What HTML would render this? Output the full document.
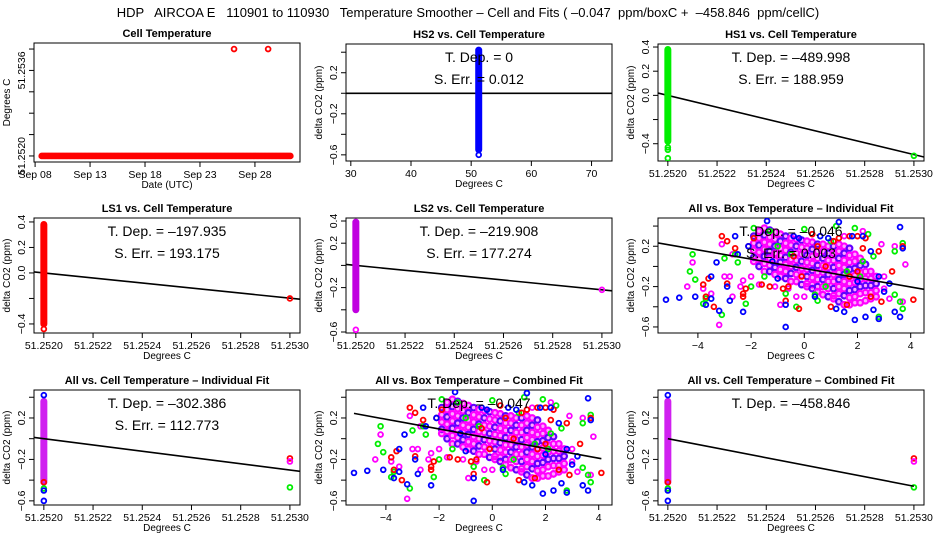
<!DOCTYPE html>
<html><head><meta charset="utf-8">
<style>
html,body{margin:0;padding:0;background:#fff;}
svg{display:block;font-family:"Liberation Sans",sans-serif;}
</style></head>
<body>
<svg id="chart" width="936" height="540" viewBox="0 0 936 540">
<text x="468" y="17" font-size="13" text-anchor="middle" xml:space="preserve">HDP   AIRCOA E   110901 to 110930   Temperature Smoother – Cell and Fits ( –0.047  ppm/boxC +  –458.846  ppm/cellC)</text>
</svg>
<script>
// ---------- data ----------
const cellDays = [];
for (let d = 8.6; d <= 31.31; d += 0.125) cellDays.push(d);
const cellBase = 51.2520;
const cellOutDays = [26.1, 29.2];
const cellOutVals = [51.2540, 51.2540];

const tDepLabels = ["0", "–489.998", "–197.935", "–219.908", "–0.046", "–302.386", "–0.047", "–458.846"];
const sErrLabels = ["0.012", "188.959", "193.175", "177.274", "0.003", "112.773"];
const slopes = [0, -489.998, -197.935, -219.908, -0.046, -302.386, -0.047, -458.846];
const intercepts = [0, 0, 0, 0, -0.02, 0, 0.0, 0];

const hs2Strip = [-0.55, 0.42];
const hs1Strip = [-0.38, 0.38];
const ls1Strip = [-0.40, 0.38];
const ls2Strip = [-0.40, 0.39];
const allStrip = [-0.42, 0.36];
const hs2Extra = [-0.6];
const hs1Extra = [-0.43, -0.45, -0.52];
const hs1Right = [-0.5];
const ls1Extra = [-0.44];
const ls1Right = [-0.2];
const ls2Extra = [-0.58];
const ls2Right = [-0.22];
const allLeftColors = ["#0000ff", "#ff0000", "#00ee00", "#0000ff", "#0000ff"];
const allLeftVals = [0.42, -0.42, -0.48, -0.5, -0.6];
const allRightColors = ["#ff0000", "#ff00ff", "#00ee00"];
const allRightVals = [-0.19, -0.22, -0.47];

const blueX = [-5.2,-4.7,-4.1,-3.5,-3.2,-2.3,-2.8,-3.3,-3.5,-2.5,-1.4,-0.7,-0.7,0.6,1.3,1.9,2.3,2.8,3.2,3.4,3.6,3.6,3.7,2.8,2.2,1.5,1.2,0.9,-0.2,-2.1,-2.6,-1.2,-1.0,2.6,3.0,2.0,0.4,1.8,-0.4,2.5,-3.7,-2.9];
const blueY = [-0.33,-0.31,-0.3,-0.32,-0.44,-0.45,-0.34,0.04,-0.1,0.12,0.45,-0.38,-0.6,0.3,0.44,-0.53,-0.5,-0.52,-0.17,-0.45,-0.5,0.39,0.18,-0.1,0.3,-0.45,-0.42,0.28,0.28,0.2,0.3,0.05,-0.12,-0.43,-0.25,-0.15,-0.3,0.3,0.3,0.15,-0.38,-0.2];
const redX = [-3.1,-2.9,-2.6,-3.7,-3.4,-3.8,-2.9,-2.3,-2.2,-3.6,-2.1,-1.6,-1.3,-0.7,-0.2,-0.6,-0.8,-0.1,0.3,1.1,1.3,1.7,2.0,2.3,2.2,3.3,3.7,4.1,2.9,1.7,1.0,1.6,2.5,0.5,-1.9,-0.4,0.8,2.8,-2.3,2.0];
const redY = [0.3,0.25,0.18,-0.3,-0.4,-0.18,-0.17,-0.27,-0.22,-0.12,0.2,-0.18,-0.2,-0.34,-0.42,-0.2,-0.22,-0.1,0.32,0.25,0.28,0.3,0.3,0.28,0.18,-0.05,0.2,-0.33,-0.35,-0.1,-0.4,-0.38,-0.3,0.2,0.28,0.1,0.0,0.15,-0.3,-0.05];
const greenX = [-4.2,-4.3,-4.1,-3.8,-3.7,-3.1,-2.5,-2.2,-2.0,-1.5,-1.9,-2.6,0.0,-0.7,-0.3,0.5,0.4,1.0,1.2,1.9,2.2,2.8,3.4,3.6,3.7,3.4,3.7,2.6,2.1,-1.0,-1.3,1.6,0.8,-3.0,-0.5,2.4];
const greenY = [0.12,-0.05,-0.13,-0.37,-0.32,-0.48,0.04,-0.37,-0.2,-0.1,0.38,0.12,0.37,-0.27,-0.4,-0.34,-0.28,0.25,0.4,0.38,0.05,-0.5,-0.28,-0.35,-0.42,0.15,0.23,0.1,-0.1,0.2,0.35,-0.05,-0.2,0.08,0.12,0.32];
const magX = [-4.4,-4.2,-3.8,-3.5,-3.2,-3.0,-2.8,-2.7,-2.4,-2.3,-3.1,-2.7,-2.0,-1.7,-1.1,-0.9,-0.6,-0.3,0.0,3.0,3.2,3.4,3.8,3.7,2.9,2.2,1.5,3.0];
const magY = [-0.2,0.04,-0.22,-0.27,-0.58,-0.1,-0.1,-0.3,-0.2,-0.14,0.22,0.12,-0.1,-0.18,-0.2,-0.38,-0.22,-0.3,-0.3,-0.22,-0.32,0.2,0.02,-0.35,0.22,0.35,0.3,-0.1];
const coreX = [-1.9,-1.7,-1.5,-1.3,-1.1,-0.9,-0.7,-0.5,-0.3,-0.1,0.1,0.3,0.5,0.7,0.9,1.1,1.3,1.5,1.7,1.9,2.1,2.3,2.5,2.7];
const coreY = [
 [0.30,0.23,0.16,0.09,0.05],
 [0.35,0.28,0.21,0.14,0.07,0.0],
 [0.38,0.31,0.24,0.17,0.10,0.03,-0.05],
 [0.36,0.29,0.22,0.15,0.08,0.01,-0.05],
 [0.34,0.27,0.20,0.13,0.06,-0.01,-0.08],
 [0.32,0.25,0.18,0.11,0.04,-0.03,-0.10],
 [0.30,0.23,0.16,0.09,0.02,-0.05,-0.12],
 [0.28,0.21,0.14,0.07,0.0,-0.07,-0.15],
 [0.27,0.20,0.13,0.06,-0.01,-0.08,-0.15],
 [0.26,0.19,0.12,0.05,-0.02,-0.09,-0.18],
 [0.25,0.18,0.11,0.04,-0.03,-0.10,-0.17,-0.20],
 [0.24,0.17,0.10,0.03,-0.04,-0.11,-0.18,-0.22],
 [0.22,0.15,0.08,0.01,-0.06,-0.13,-0.20,-0.25],
 [0.22,0.15,0.08,0.01,-0.06,-0.13,-0.20,-0.28],
 [0.20,0.13,0.06,-0.01,-0.08,-0.15,-0.22,-0.30],
 [0.20,0.13,0.06,-0.01,-0.08,-0.15,-0.22,-0.29,-0.32],
 [0.22,0.15,0.08,0.01,-0.06,-0.13,-0.20,-0.27,-0.35],
 [0.20,0.13,0.06,-0.01,-0.08,-0.15,-0.22,-0.29,-0.38],
 [0.18,0.11,0.04,-0.03,-0.10,-0.17,-0.24,-0.31,-0.38],
 [0.12,0.05,-0.02,-0.09,-0.16,-0.23,-0.30,-0.36],
 [0.08,0.01,-0.06,-0.13,-0.20,-0.27,-0.36],
 [0.02,-0.05,-0.12,-0.19,-0.26,-0.34],
 [-0.05,-0.12,-0.19,-0.26,-0.32],
 [-0.10,-0.17,-0.24,-0.30]
];

// ---------- drawing helpers ----------
const NS = "http://www.w3.org/2000/svg";
const svg = document.getElementById("chart");
function mk(tag, attrs, parent) {
  const e = document.createElementNS(NS, tag);
  for (const k in attrs) e.setAttribute(k, attrs[k]);
  (parent || svg).appendChild(e);
  return e;
}
function lin(d0, d1, r0, r1) { return v => r0 + (v - d0) * (r1 - r0) / (d1 - d0); }

function panel(cfg) {
  const g = mk("g", {});
  
  
  const [L, T, R, B] = cfg.box;
  const sx = lin(cfg.xd[0], cfg.xd[1], L, R);
  const sy = lin(cfg.yd[0], cfg.yd[1], B, T);
  const t = mk("text", {x: (L + R) / 2, y: T - 6, "font-size": 11, "font-weight": "bold", "text-anchor": "middle"}, g);
  t.textContent = cfg.title;
  
  
  const bx = mk("rect", {x: L, y: T, width: R - L, height: B - T, fill: "none", stroke: "#000", "stroke-width": 1}, g);
  
  
  cfg.xt.forEach((v, i) => {
    const x = sx(v);
    mk("line", {x1: x, x2: x, y1: B, y2: B + 5, stroke: "#000"}, g);
    const lb = mk("text", {x: x, y: B + 16, "font-size": 10.5, "text-anchor": "middle"}, g);
    lb.textContent = cfg.xl[i];
    
    
  });
  cfg.yt.forEach((v, i) => {
    const y = sy(v);
    mk("line", {x1: L - 5, x2: L, y1: y, y2: y, stroke: "#000"}, g);
    if (cfg.yl[i]) {
      const lb = mk("text", {x: 0, y: 0, "font-size": 10.5, "text-anchor": "middle", transform: `translate(${L - 9},${y}) rotate(-90)`}, g);
      lb.textContent = cfg.yl[i];
      
      
    }
  });
  const xt = mk("text", {x: (L + R) / 2, y: B + 26, "font-size": 10, "text-anchor": "middle"}, g);
  xt.textContent = cfg.xTitle;
  
  
  const yt = mk("text", {x: 0, y: 0, "font-size": 10, "text-anchor": "middle", transform: `translate(${L - 24},${(T + B) / 2}) rotate(-90)`}, g);
  yt.textContent = cfg.yTitle;
  
  
  const clip = "c" + cfg.name;
  const cp = mk("clipPath", {id: clip}, g);
  mk("rect", {x: L, y: T, width: R - L, height: B - T}, cp);
  const pg = mk("g", {"clip-path": `url(#${clip})`}, g);
  return {g, pg, sx, sy, L, T, R, B};
}
function pt(p, x, y, col, name, big) {
  const c = mk("circle", {cx: p.sx(x), cy: p.sy(y), r: big ? 2.8 : 2.4, fill: big ? "rgba(255,0,255,0.35)" : "none", stroke: col, "stroke-width": big ? 2.2 : 1.8}, p.pg);
  
  
}
function strip(p, x, range, col) {
  const r = mk("rect", {x: p.sx(x) - 3, y: p.sy(range[1]) - 3, width: 6, height: p.sy(range[0]) - p.sy(range[1]) + 6, rx: 3, fill: col, stroke: col}, p.pg);
  
  
}
function fitLine(p, x0, x1, a, b, xref) {
  const l = mk("line", {x1: p.sx(x0), y1: p.sy(a + b * (x0 - xref)), x2: p.sx(x1), y2: p.sy(a + b * (x1 - xref)), stroke: "#000", "stroke-width": 1.6}, p.pg);
  
  
}
function stats(p, tdep, serr) {
  const cx = (p.L + p.R) / 2;
  const a = mk("text", {x: cx, y: p.T + 18, "font-size": 14, "text-anchor": "middle", "xml:space": "preserve"}, p.g);
  a.textContent = "T. Dep. =  " + tdep;
  
  
  if (serr !== null) {
    const b = mk("text", {x: cx, y: p.T + 40, "font-size": 14, "text-anchor": "middle", "xml:space": "preserve"}, p.g);
    b.textContent = "S. Err. =  " + serr;
    
    
  }
}

const cellXd = [51.25196, 51.253041];
const cellXt = [51.2520, 51.2522, 51.2524, 51.2526, 51.2528, 51.2530];
const cellXl = cellXt.map(v => v.toFixed(4));
const boxXd = [-5.5, 4.5];
const boxXt = [-4, -2, 0, 2, 4];
const boxXl = ["−4", "−2", "0", "2", "4"];
const yt6 = [-0.6, -0.4, -0.2, 0, 0.2, 0.4];
const yl6 = ["−0.6", "", "−0.2", "", "0.2", ""];
const yt5 = [-0.4, -0.2, 0, 0.2, 0.4];
const yl5 = ["−0.4", "", "0.0", "0.2", "0.4"];
const DC = "delta CO2 (ppm)", DG = "Degrees C";
const C1 = [34, 300], C2 = [346, 612], C3 = [658, 924];
const R1 = [44, 161], R2 = [218, 333], R3 = [390, 505];

{
  const p = panel({name: "cell-temperature-panel", box: [C1[0], 43, C1[1], 162], xd: [7.9, 32.1], yd: [51.251887, 51.254113],
    xt: [8, 13, 18, 23, 28], xl: ["Sep 08", "Sep 13", "Sep 18", "Sep 23", "Sep 28"],
    yt: [51.2520, 51.2524, 51.2528, 51.2532, 51.2536, 51.2540], yl: ["51.2520", "", "", "", "51.2536", ""],
    title: "Cell Temperature", xTitle: "Date (UTC)", yTitle: "Degrees C"});
  cellDays.forEach(d => pt(p, d, cellBase, "#ff0000", "cell-temp-point"));
  cellOutDays.forEach((d, i) => pt(p, d, cellOutVals[i], "#ff0000", "cell-temp-outlier"));
}
{
  const p = panel({name: "hs2-panel", box: [C2[0], R1[0], C2[1], R1[1]], xd: [29.2, 73.4], yd: [-0.66, 0.48],
    xt: [30, 40, 50, 60, 70], xl: ["30", "40", "50", "60", "70"], yt: yt6, yl: yl6,
    title: "HS2 vs. Cell Temperature", xTitle: DG, yTitle: DC});
  fitLine(p, 29.2, 73.4, intercepts[0], slopes[0], 51.252);
  strip(p, 51.252, hs2Strip, "#0000ff");
  hs2Extra.forEach(v => pt(p, 51.252, v, "#0000ff", "hs2-point"));
  stats(p, tDepLabels[0], sErrLabels[0]);
}
{
  const p = panel({name: "hs1-panel", box: [C3[0], R1[0], C3[1], R1[1]], xd: cellXd, yd: [-0.543, 0.425],
    xt: cellXt, xl: cellXl, yt: yt5, yl: yl5, title: "HS1 vs. Cell Temperature", xTitle: DG, yTitle: DC});
  fitLine(p, cellXd[0], cellXd[1], intercepts[1], slopes[1], 51.252);
  strip(p, 51.252, hs1Strip, "#00ee00");
  hs1Extra.forEach(v => pt(p, 51.252, v, "#00ee00", "hs1-point"));
  hs1Right.forEach(v => pt(p, 51.253, v, "#00ee00", "hs1-point"));
  stats(p, tDepLabels[1], sErrLabels[1]);
}
{
  const p = panel({name: "ls1-panel", box: [C1[0], R2[0], C1[1], R2[1]], xd: cellXd, yd: [-0.471, 0.431],
    xt: cellXt, xl: cellXl, yt: yt5, yl: yl5, title: "LS1 vs. Cell Temperature", xTitle: DG, yTitle: DC});
  fitLine(p, cellXd[0], cellXd[1], intercepts[2], slopes[2], 51.252);
  strip(p, 51.252, ls1Strip, "#ff0000");
  ls1Extra.forEach(v => pt(p, 51.252, v, "#ff0000", "ls1-point"));
  ls1Right.forEach(v => pt(p, 51.253, v, "#ff0000", "ls1-point"));
  stats(p, tDepLabels[2], sErrLabels[2]);
}
{
  const p = panel({name: "ls2-panel", box: [C2[0], R2[0], C2[1], R2[1]], xd: cellXd, yd: [-0.609, 0.427],
    xt: cellXt, xl: cellXl, yt: yt6, yl: ["−0.6", "", "−0.2", "", "0.2", "0.4"], title: "LS2 vs. Cell Temperature", xTitle: DG, yTitle: DC});
  fitLine(p, cellXd[0], cellXd[1], intercepts[3], slopes[3], 51.252);
  strip(p, 51.252, ls2Strip, "#c000e0");
  ls2Extra.forEach(v => pt(p, 51.252, v, "#ff00ff", "ls2-point"));
  ls2Right.forEach(v => pt(p, 51.253, v, "#ff00ff", "ls2-point"));
  stats(p, tDepLabels[3], sErrLabels[3]);
}
function scatterAll(p) {
  coreX.forEach((x, i) => coreY[i].forEach((y, j) => pt(p, x, y, (i + j) % 3 === 0 ? "#6000ff" : "#ff00ff", "core-point", true)));
  magX.forEach((x, i) => pt(p, x, magY[i], "#ff00ff", "ls2-point"));
  greenX.forEach((x, i) => pt(p, x, greenY[i], "#00ee00", "hs1-point"));
  redX.forEach((x, i) => pt(p, x, redY[i], "#ff0000", "ls1-point"));
  blueX.forEach((x, i) => pt(p, x, blueY[i], "#0000ff", "hs2-point"));
}
{
  const p = panel({name: "box-individual-panel", box: [C3[0], R2[0], C3[1], R2[1]], xd: boxXd, yd: [-0.66, 0.48],
    xt: boxXt, xl: boxXl, yt: yt6, yl: yl6, title: "All vs. Box Temperature – Individual Fit", xTitle: DG, yTitle: DC});
  scatterAll(p);
  fitLine(p, boxXd[0], boxXd[1], intercepts[4], slopes[4], 0);
  stats(p, tDepLabels[4], sErrLabels[4]);
}
function allCell(p) {
  strip(p, 51.252, allStrip, "#d020f0");
  allLeftVals.forEach((v, i) => pt(p, 51.252, v, allLeftColors[i], "all-point"));
  allRightVals.forEach((v, i) => pt(p, 51.253, v, allRightColors[i], "all-point"));
}
{
  const p = panel({name: "cell-individual-panel", box: [C1[0], R3[0], C1[1], R3[1]], xd: cellXd, yd: [-0.64, 0.47],
    xt: cellXt, xl: cellXl, yt: yt6, yl: yl6, title: "All vs. Cell Temperature – Individual Fit", xTitle: DG, yTitle: DC});
  allCell(p);
  fitLine(p, cellXd[0], cellXd[1], intercepts[5], slopes[5], 51.252);
  stats(p, tDepLabels[5], sErrLabels[5]);
}
{
  const p = panel({name: "box-combined-panel", box: [C2[0], R3[0], C2[1], R3[1]], xd: boxXd, yd: [-0.64, 0.47],
    xt: boxXt, xl: boxXl, yt: yt6, yl: yl6, title: "All vs. Box Temperature – Combined Fit", xTitle: DG, yTitle: DC});
  scatterAll(p);
  fitLine(p, -5.2, 4.1, intercepts[6], slopes[6], 0);
  stats(p, tDepLabels[6], null);
}
{
  const p = panel({name: "cell-combined-panel", box: [C3[0], R3[0], C3[1], R3[1]], xd: cellXd, yd: [-0.64, 0.47],
    xt: cellXt, xl: cellXl, yt: yt6, yl: yl6, title: "All vs. Cell Temperature – Combined Fit", xTitle: DG, yTitle: DC});
  allCell(p);
  fitLine(p, 51.252, 51.253, intercepts[7], slopes[7], 51.252);
  stats(p, tDepLabels[7], null);
}
</script>
</body></html>
